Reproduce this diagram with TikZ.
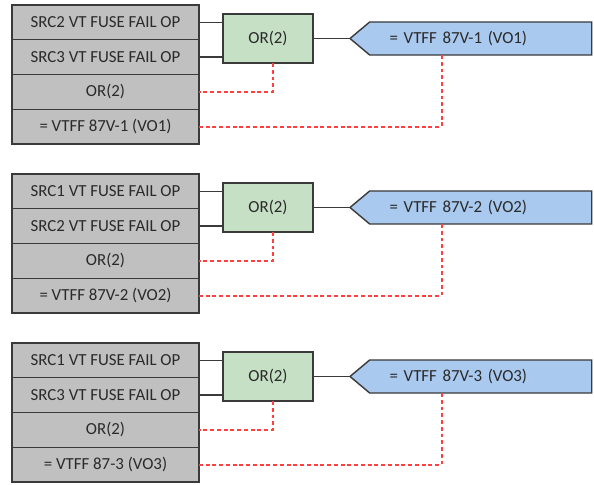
\documentclass[tikz,border=0pt]{standalone}
\usepackage{fontspec}
\setmainfont{Carlito}
\usetikzlibrary{positioning,shapes.symbols,calc}
\definecolor{rowgray}{HTML}{C0C0C0}
\definecolor{edgegray}{HTML}{3A3A3A}
\definecolor{boxgreen}{HTML}{C6E0C5}
\definecolor{boxblue}{HTML}{A9C9EE}
\definecolor{linkred}{HTML}{FF4040}
\definecolor{txtgray}{HTML}{2A2A2A}

\begin{document}
\begin{tikzpicture}[x=0.025cm,y=-0.025cm,
  row/.style={draw=edgegray,fill=rowgray,minimum width=4.675cm,minimum height=0.869cm,inner sep=0pt,outer sep=0pt,font=\fontsize{12}{14}\selectfont,text=txtgray,line width=1pt},
  gate/.style={draw=edgegray,fill=boxgreen,minimum width=2.25cm,minimum height=1.225cm,inner sep=0pt,outer sep=0pt,font=\fontsize{12}{14}\selectfont,text=txtgray,line width=1pt},
  vout/.style={signal,signal to=west,signal from=nowhere,signal pointer angle=80,draw=edgegray,fill=boxblue,text width=5.35cm,align=left,inner xsep=0.1cm,inner ysep=0pt,minimum height=0.825cm,outer sep=0pt,font=\fontsize{12}{14}\selectfont,text=txtgray,line width=1pt},
  wire/.style={edgegray,line width=1pt},
  fb/.style={linkred,dash pattern=on 2.8pt off 2pt,line width=1.4pt}]
\useasboundingbox (0,0) rectangle (594,485);
\foreach \b/\y/\ia/\ib/\vo/\lbl in {1/0/SRC2/SRC3/{87V-1 (VO1)}/{87V-1 (VO1)},2/169/SRC1/SRC2/{87V-2 (VO2)}/{87V-2 (VO2)},3/338/SRC1/SRC3/{87V-3 (VO3)}/{87-3 (VO3)}}{
  % ---------- input rows ----------
  \node[row,anchor=north west] (a\b) at (12,5+\y) {\ia\ VT FUSE FAIL OP};
  \node[row,below=0pt of a\b] (b\b) {\ib\ VT FUSE FAIL OP};
  \node[row,below=0pt of b\b] (c\b) {OR(2)};
  \node[row,below=0pt of c\b] (d\b) {= VTFF \lbl};
  % ---------- gate and output ----------
  \node[gate] (g\b) at (268,38.5+\y) {OR(2)};
  \node[vout,anchor=west] (v\b) at (350,38.5+\y) {\hspace*{0.4cm}= VTFF \vo};
  \draw[wire] (a\b.east) -- (a\b.east -| g\b.west);
  \draw[wire] (b\b.east) -- (b\b.east -| g\b.west);
  \draw[wire] (g\b.east) -- (v\b.west);
  \draw[fb] ($(g\b.south)+(5,0)$) |- (c\b.east);
  \draw[fb] ($(v\b.south west)+(72,0)$) |- (d\b.east);
}
\end{tikzpicture}
\end{document}
